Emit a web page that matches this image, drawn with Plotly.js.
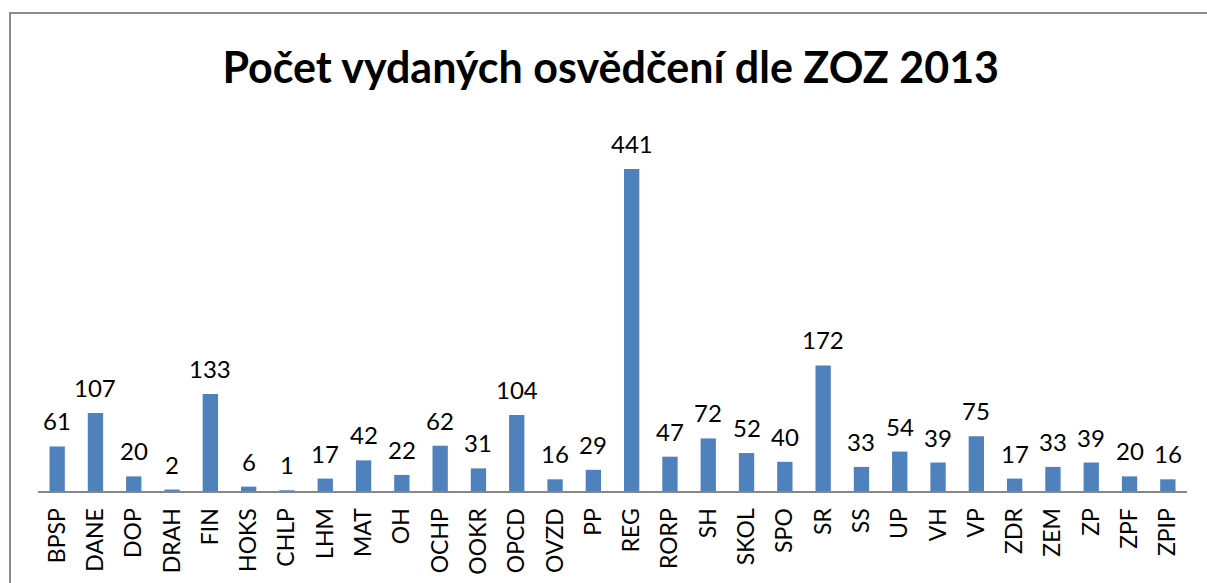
<!DOCTYPE html>
<html><head><meta charset="utf-8">
<script src="https://cdn.plot.ly/plotly-3.0.1.min.js"></script>
<style>
html,body{margin:0;padding:0;background:#fff;overflow:hidden;}
#frame{position:absolute;left:9px;top:12px;width:1250px;height:650px;border:2px solid #8c8c8c;box-sizing:border-box;}
#chart{position:absolute;left:0;top:0;width:1207px;height:583px;}
</style></head>
<body>
<div id="frame"></div>
<div id="chart"></div>
<script>
const categories = ["BPSP","DANE","DOP","DRAH","FIN","HOKS","CHLP","LHM","MAT","OH","OCHP","OOKR","OPCD","OVZD","PP","REG","RORP","SH","SKOL","SPO","SR","SS","UP","VH","VP","ZDR","ZEM","ZP","ZPF","ZPIP"];
const values = [61,107,20,2,133,6,1,17,42,22,62,31,104,16,29,441,47,72,52,40,172,33,54,39,75,17,33,39,20,16];
const chartTitle = "Počet vydaných osvědčení dle ZOZ 2013";

const font = "Lato, 'Open Sans', sans-serif";
const annotations = categories.map((c,i)=>({
  x:c, y:values[i], xref:'x', yref:'y', text:String(values[i]),
  showarrow:false, yanchor:'bottom', yshift:9,
  font:{family:font, size:24, color:'#000'}
}));

Plotly.newPlot('chart',[{
  type:'bar', x:categories, y:values,
  marker:{color:'#4F81BD'}, hoverinfo:'none'
}],{
  width:1207, height:583,
  margin:{l:38,r:20,t:126,b:92},
  paper_bgcolor:'rgba(0,0,0,0)', plot_bgcolor:'rgba(0,0,0,0)',
  bargap:0.6,
  title:{text:'<b>'+chartTitle+'</b>', x:0.506, xanchor:'center', y:0.883, yanchor:'middle',
    font:{family:font, size:43, color:'#000'}},
  xaxis:{type:'category', tickangle:-90, showgrid:false, zeroline:false,
    showline:true, linecolor:'#868686', linewidth:2,
    ticks:'outside', ticklen:6, tickcolor:'rgba(0,0,0,0)',
    tickfont:{family:font, size:23, color:'#000'}},
  yaxis:{range:[0,500], visible:false, showgrid:false, zeroline:false},
  annotations:annotations,
  showlegend:false
},{staticPlot:true});
</script>
</body></html>
